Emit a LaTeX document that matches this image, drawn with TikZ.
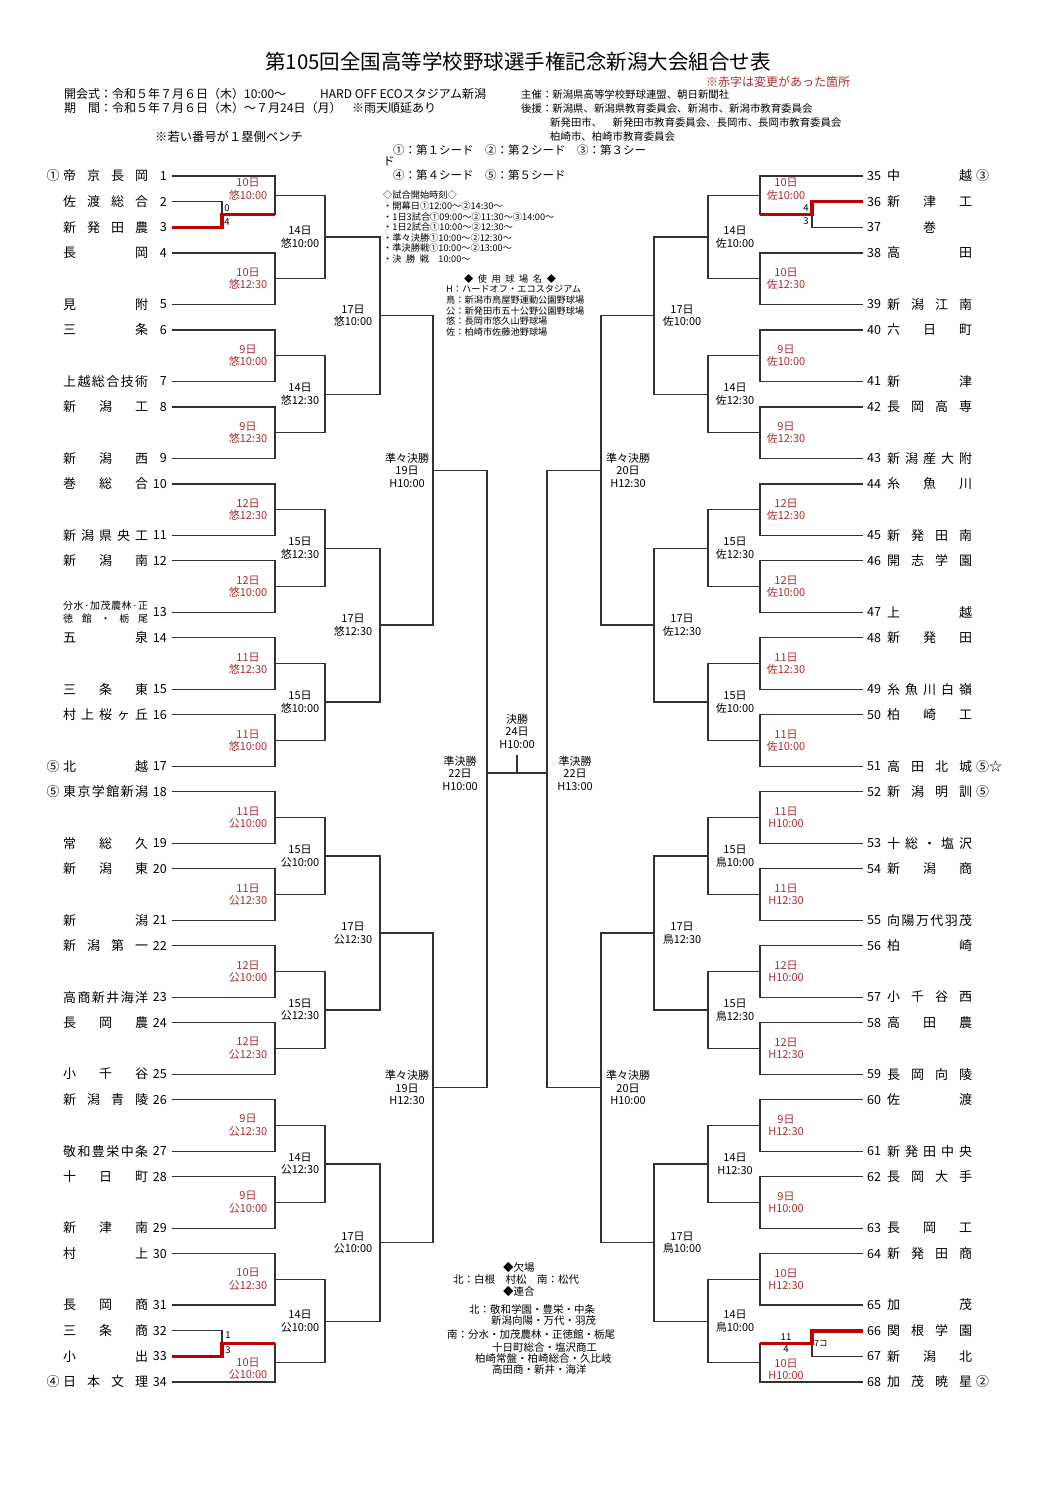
\documentclass[tikz,border=0pt]{standalone}
\usepackage{fontspec}
\setmainfont{Noto Sans CJK JP}
\usetikzlibrary{calc}
\definecolor{redtxt}{RGB}{172,44,48}
\definecolor{redln}{RGB}{192,0,0}
\definecolor{lncol}{RGB}{50,50,50}
\def\spreadA#1#2\endspread{#1\ifx\relax#2\relax\else\hfill\spreadA#2\endspread\fi}
\newcommand\sprd[1]{\makebox[85pt][s]{\spreadA#1\endspread}}
\newcommand\ctrbox[1]{\makebox[85pt][c]{#1}}
\newcommand\fsz[2]{\fontsize{#1}{#2}\selectfont}
\newcommand\gapsp{\hspace{0.5em}}
\newcommand\lteam[4]{%
 \coordinate (t#1) at (172,{176+25.66*#2});
 \node[tnum,anchor=east] (n#1) at (167,{176+25.66*#2}) {#1};
 \node[tname,anchor=west] (m#1) at (63,{176+25.66*#2}) {#3};
 \ifx\relax#4\relax\else\node[tname] (s#1) at (53,{176+25.66*#2}) {#4};\fi}
\newcommand\rteam[4]{%
 \coordinate (t#1) at (863,{176+25.66*#2});
 \node[tnum,anchor=west] (n#1) at (867,{176+25.66*#2}) {#1};
 \node[tname,anchor=west] (m#1) at (887,{176+25.66*#2}) {#3};
 \ifx\relax#4\relax\else\node[tname,anchor=west] (s#1) at (976,{176+25.66*#2}) {#4};\fi}
\newcommand\brk[4]{%
 \draw[ln] (#1) -- (#1 -| #3) -- (#2 -| #3) -- (#2);
 \coordinate (#4) at ($(#1 -| #3)!0.5!(#2 -| #3)$);}
\newcommand\mlab[5]{\node[#4,yshift=#5] (l#1) at (#1 -| #2) {#3};}
\begin{document}
\begin{tikzpicture}[x=1pt,y=-1pt,
  ln/.style={draw=lncol,line width=1.15pt},
  redpath/.style={draw=redln,line width=3.6pt},
  tname/.style={inner sep=0pt,font=\fsz{13}{13}},
  tnum/.style={inner sep=0pt,font=\fsz{12.5}{13}},
  lab/.style={inner sep=0pt,align=center,font=\fsz{11}{12.5}},
  rlab/.style={lab,text=redtxt},
  score/.style={inner sep=0pt,font=\fsz{9.5}{10}},
  note/.style={inner sep=0pt,anchor=west,font=\fsz{9.2}{10}},
  bnote/.style={inner sep=0pt,anchor=west,font=\fsz{10.5}{11}},
  head/.style={inner sep=0pt,anchor=west,font=\fsz{12}{13}},
  sub/.style={inner sep=0pt,anchor=west,font=\fsz{10.4}{11}},
  seedl/.style={inner sep=0pt,anchor=west,font=\fsz{11.5}{12}}]
\useasboundingbox[fill=white] (0,0) rectangle (1061,1500);

% ---------- header ----------
\node[inner sep=0pt,font=\fsz{20.5}{22}] (title) at (518,62) {第105回全国高等学校野球選手権記念新潟大会組合せ表};
\node[inner sep=0pt,anchor=west,font=\fsz{12}{12},text=redtxt] (chg) at (706,82) {※赤字は変更があった箇所};
\node[head] (hd1) at (64,94) {開会式：令和５年７月６日（木）10:00～};
\node[head] (hd2) at (320,94) {HARD OFF ECOスタジアム新潟};
\node[head] (hd3) at (64,108) {期　間：令和５年７月６日（木）～７月24日（月）};
\node[head] (hd4) at (352,108) {※雨天順延あり};
\node[inner sep=0pt,anchor=west,font=\fsz{12.3}{13}] (hd5) at (155,137) {※若い番号が１塁側ベンチ};
\node[sub] (sp1) at (521,95) {主催：新潟県高等学校野球連盟、朝日新聞社};
\node[sub] (sp2) at (521,109) {後援：新潟県、新潟県教育委員会、新潟市、新潟市教育委員会};
\node[sub] (sp3) at (550,123) {新発田市、　新発田市教育委員会、長岡市、長岡市教育委員会};
\node[sub] (sp4) at (550,137) {柏崎市、柏崎市教育委員会};
\node[seedl] (sd1) at (393,150) {①：第１シード　②：第２シード　③：第３シー};
\node[seedl] (sd2) at (383,161) {ド};
\node[seedl] (sd3) at (393,175) {④：第４シード　⑤：第５シード};

% ---------- centre notes ----------
\node[note] (h1) at (383,195) {◇試合開始時刻◇};
\node[note] (h2) at (383,206) {・開幕日①12:00～②14:30～};
\node[note] (h3) at (383,216.5) {・1日3試合①09:00～②11:30～③14:00～};
\node[note] (h4) at (383,227) {・1日2試合①10:00～②12:30～};
\node[note] (h5) at (383,237.5) {・準々決勝①10:00～②12:30～};
\node[note] (h6) at (383,248) {・準決勝戦①10:00～②13:00～};
\node[note] (h7) at (383,259) {・決\gapsp 勝\gapsp 戦　10:00～};
\node[note,anchor=center] (h8) at (510,279) {◆\gapsp 使\gapsp 用\gapsp 球\gapsp 場\gapsp 名\gapsp ◆};
\node[note] (h9) at (446,289) {H：ハードオフ・エコスタジアム};
\node[note] (h10) at (446,300) {鳥：新潟市鳥屋野運動公園野球場};
\node[note] (h11) at (446,310.5) {公：新発田市五十公野公園野球場};
\node[note] (h12) at (446,321) {悠：長岡市悠久山野球場};
\node[note] (h13) at (446,331.5) {佐：柏崎市佐藤池野球場};

\node[bnote] (k1) at (503,1267) {◆欠場};
\node[bnote] (k2) at (453,1279) {北：白根　村松　南：松代};
\node[bnote] (k3) at (503,1291) {◆連合};
\node[bnote] (k4) at (469,1309) {北：敬和学園・豊栄・中条};
\node[bnote] (k5) at (491,1321) {新潟向陽・万代・羽茂};
\node[bnote] (k6) at (447,1335) {南：分水・加茂農林・正徳館・栃尾};
\node[bnote] (k7) at (492,1347) {十日町総合・塩沢商工};
\node[bnote] (k8) at (475,1358) {柏崎常盤・柏崎総合・久比岐};
\node[bnote] (k9) at (492,1370) {高田商・新井・海洋};

% ---------- columns ----------
\coordinate (cLp) at (222,0); \coordinate (cL1) at (275,0); \coordinate (cL2) at (325,0);
\coordinate (cL3) at (380,0); \coordinate (cL4) at (433,0); \coordinate (cL5) at (487,0);
\coordinate (cRp) at (812,0); \coordinate (cR1) at (760,0); \coordinate (cR2) at (708,0);
\coordinate (cR3) at (654,0); \coordinate (cR4) at (601,0); \coordinate (cR5) at (547,0);
\coordinate (xl1) at (248,0); \coordinate (xl2) at (300,0); \coordinate (xl3) at (353,0);
\coordinate (xl4) at (407,0); \coordinate (xl5) at (460,0);
\coordinate (xr1) at (786,0); \coordinate (xr2) at (735,0); \coordinate (xr3) at (682,0);
\coordinate (xr4) at (628,0); \coordinate (xr5) at (575,0);

% ---------- teams left ----------
\lteam{1}{0}{\sprd{帝京長岡}}{①}
\lteam{2}{1}{\sprd{佐渡総合}}{}
\lteam{3}{2}{\sprd{新発田農}}{}
\lteam{4}{3}{\sprd{長岡}}{}
\lteam{5}{5}{\sprd{見附}}{}
\lteam{6}{6}{\sprd{三条}}{}
\lteam{7}{8}{\sprd{上越総合技術}}{}
\lteam{8}{9}{\sprd{新潟工}}{}
\lteam{9}{11}{\sprd{新潟西}}{}
\lteam{10}{12}{\sprd{巻総合}}{}
\lteam{11}{14}{\sprd{新潟県央工}}{}
\lteam{12}{15}{\sprd{新潟南}}{}
\coordinate (t13) at (172,{176+25.66*17});
\node[tnum,anchor=east] (n13) at (167,{176+25.66*17}) {13};
\node[inner sep=0pt,anchor=west,font=\fsz{10}{10}] (m13a) at (63,{176+25.66*17-7}) {\sprd{分水·加茂農林·正}};
\node[inner sep=0pt,anchor=west,font=\fsz{10}{10}] (m13b) at (63,{176+25.66*17+6}) {\sprd{徳館・栃尾}};
\lteam{14}{18}{\sprd{五泉}}{}
\lteam{15}{20}{\sprd{三条東}}{}
\lteam{16}{21}{\sprd{村上桜ヶ丘}}{}
\lteam{17}{23}{\sprd{北越}}{⑤}
\lteam{18}{24}{\sprd{東京学館新潟}}{⑤}
\lteam{19}{26}{\sprd{常総久}}{}
\lteam{20}{27}{\sprd{新潟東}}{}
\lteam{21}{29}{\sprd{新潟}}{}
\lteam{22}{30}{\sprd{新潟第一}}{}
\lteam{23}{32}{\sprd{高商新井海洋}}{}
\lteam{24}{33}{\sprd{長岡農}}{}
\lteam{25}{35}{\sprd{小千谷}}{}
\lteam{26}{36}{\sprd{新潟青陵}}{}
\lteam{27}{38}{\sprd{敬和豊栄中条}}{}
\lteam{28}{39}{\sprd{十日町}}{}
\lteam{29}{41}{\sprd{新津南}}{}
\lteam{30}{42}{\sprd{村上}}{}
\lteam{31}{44}{\sprd{長岡商}}{}
\lteam{32}{45}{\sprd{三条商}}{}
\lteam{33}{46}{\sprd{小出}}{}
\lteam{34}{47}{\sprd{日本文理}}{④}

% ---------- teams right ----------
\rteam{35}{0}{\sprd{中越}}{③}
\rteam{36}{1}{\sprd{新津工}}{}
\rteam{37}{2}{\ctrbox{巻}}{}
\rteam{38}{3}{\sprd{高田}}{}
\rteam{39}{5}{\sprd{新潟江南}}{}
\rteam{40}{6}{\sprd{六日町}}{}
\rteam{41}{8}{\sprd{新津}}{}
\rteam{42}{9}{\sprd{長岡高専}}{}
\rteam{43}{11}{\sprd{新潟産大附}}{}
\rteam{44}{12}{\sprd{糸魚川}}{}
\rteam{45}{14}{\sprd{新発田南}}{}
\rteam{46}{15}{\sprd{開志学園}}{}
\rteam{47}{17}{\sprd{上越}}{}
\rteam{48}{18}{\sprd{新発田}}{}
\rteam{49}{20}{\sprd{糸魚川白嶺}}{}
\rteam{50}{21}{\sprd{柏崎工}}{}
\rteam{51}{23}{\sprd{高田北城}}{⑤☆}
\rteam{52}{24}{\sprd{新潟明訓}}{⑤}
\rteam{53}{26}{\sprd{十総・塩沢}}{}
\rteam{54}{27}{\sprd{新潟商}}{}
\rteam{55}{29}{\sprd{向陽万代羽茂}}{}
\rteam{56}{30}{\sprd{柏崎}}{}
\rteam{57}{32}{\sprd{小千谷西}}{}
\rteam{58}{33}{\sprd{高田農}}{}
\rteam{59}{35}{\sprd{長岡向陵}}{}
\rteam{60}{36}{\sprd{佐渡}}{}
\rteam{61}{38}{\sprd{新発田中央}}{}
\rteam{62}{39}{\sprd{長岡大手}}{}
\rteam{63}{41}{\sprd{長岡工}}{}
\rteam{64}{42}{\sprd{新発田商}}{}
\rteam{65}{44}{\sprd{加茂}}{}
\rteam{66}{45}{\sprd{関根学園}}{}
\rteam{67}{46}{\sprd{新潟北}}{}
\rteam{68}{47}{\sprd{加茂暁星}}{②}

% ---------- left bracket ----------
\brk{t2}{t3}{cLp}{p1}
\brk{t1}{p1}{cL1}{a1}
\brk{t4}{t5}{cL1}{a2}
\brk{t6}{t7}{cL1}{a3}
\brk{t8}{t9}{cL1}{a4}
\brk{t10}{t11}{cL1}{a5}
\brk{t12}{t13}{cL1}{a6}
\brk{t14}{t15}{cL1}{a7}
\brk{t16}{t17}{cL1}{a8}
\brk{t18}{t19}{cL1}{a9}
\brk{t20}{t21}{cL1}{a10}
\brk{t22}{t23}{cL1}{a11}
\brk{t24}{t25}{cL1}{a12}
\brk{t26}{t27}{cL1}{a13}
\brk{t28}{t29}{cL1}{a14}
\brk{t30}{t31}{cL1}{a15}
\brk{t32}{t33}{cLp}{p2}
\brk{p2}{t34}{cL1}{a16}
\brk{a1}{a2}{cL2}{b1}
\brk{a3}{a4}{cL2}{b2}
\brk{a5}{a6}{cL2}{b3}
\brk{a7}{a8}{cL2}{b4}
\brk{a9}{a10}{cL2}{b5}
\brk{a11}{a12}{cL2}{b6}
\brk{a13}{a14}{cL2}{b7}
\brk{a15}{a16}{cL2}{b8}
\brk{b1}{b2}{cL3}{c1}
\brk{b3}{b4}{cL3}{c2}
\brk{b5}{b6}{cL3}{c3}
\brk{b7}{b8}{cL3}{c4}
\brk{c1}{c2}{cL4}{d1}
\brk{c3}{c4}{cL4}{d2}
\brk{d1}{d2}{cL5}{e1m}

% ---------- right bracket ----------
\brk{t36}{t37}{cRp}{q1}
\brk{t35}{q1}{cR1}{A1}
\brk{t38}{t39}{cR1}{A2}
\brk{t40}{t41}{cR1}{A3}
\brk{t42}{t43}{cR1}{A4}
\brk{t44}{t45}{cR1}{A5}
\brk{t46}{t47}{cR1}{A6}
\brk{t48}{t49}{cR1}{A7}
\brk{t50}{t51}{cR1}{A8}
\brk{t52}{t53}{cR1}{A9}
\brk{t54}{t55}{cR1}{A10}
\brk{t56}{t57}{cR1}{A11}
\brk{t58}{t59}{cR1}{A12}
\brk{t60}{t61}{cR1}{A13}
\brk{t62}{t63}{cR1}{A14}
\brk{t64}{t65}{cR1}{A15}
\brk{t66}{t67}{cRp}{q2}
\brk{q2}{t68}{cR1}{A16}
\brk{A1}{A2}{cR2}{B1}
\brk{A3}{A4}{cR2}{B2}
\brk{A5}{A6}{cR2}{B3}
\brk{A7}{A8}{cR2}{B4}
\brk{A9}{A10}{cR2}{B5}
\brk{A11}{A12}{cR2}{B6}
\brk{A13}{A14}{cR2}{B7}
\brk{A15}{A16}{cR2}{B8}
\brk{B1}{B2}{cR3}{C1}
\brk{B3}{B4}{cR3}{C2}
\brk{B5}{B6}{cR3}{C3}
\brk{B7}{B8}{cR3}{C4}
\brk{C1}{C2}{cR4}{D1}
\brk{C3}{C4}{cR4}{D2}
\brk{D1}{D2}{cR5}{E1m}

% ---------- final ----------
\coordinate (e1) at (487,773);
\coordinate (E1) at (547,773);
\coordinate (ft) at (517,755);
\draw[ln] (e1) -- (E1);
\draw[ln] (ft) -- (ft |- e1);

% ---------- red winner paths ----------
\draw[redpath] (t3) -- (t3 -| cLp) -- (p1) -- (p1 -| cL1);
\draw[redpath] (t33) -- (t33 -| cLp) -- (p2) -- (p2 -| cL1);
\draw[redpath] (t36) -- (t36 -| cRp) -- (q1) -- (q1 -| cR1);
\draw[redpath] (t66) -- (t66 -| cRp) -- (q2) -- (q2 -| cR1);

% ---------- scores ----------
\node[score] (sc1) at (227,208) {0};
\node[score] (sc2) at (227,222) {4};
\node[score] (sc3) at (228,1335) {1};
\node[score] (sc4) at (228,1350) {3};
\node[score] (sc5) at (806,208) {4};
\node[score] (sc6) at (806,221) {3};
\node[score] (sc7) at (786,1337) {11};
\node[score] (sc8) at (786,1349) {4};
\node[score,font=\fsz{8.5}{9}] (sc9) at (821,1343) {7コ};

% ---------- left labels ----------
\mlab{a1}{xl1}{10日\\悠10:00}{rlab}{6pt}
\mlab{a2}{xl1}{10日\\悠12:30}{rlab}{0pt}
\mlab{a3}{xl1}{9日\\悠10:00}{rlab}{0pt}
\mlab{a4}{xl1}{9日\\悠12:30}{rlab}{0pt}
\mlab{a5}{xl1}{12日\\悠12:30}{rlab}{0pt}
\mlab{a6}{xl1}{12日\\悠10:00}{rlab}{0pt}
\mlab{a7}{xl1}{11日\\悠12:30}{rlab}{0pt}
\mlab{a8}{xl1}{11日\\悠10:00}{rlab}{0pt}
\mlab{a9}{xl1}{11日\\公10:00}{rlab}{0pt}
\mlab{a10}{xl1}{11日\\公12:30}{rlab}{0pt}
\mlab{a11}{xl1}{12日\\公10:00}{rlab}{0pt}
\mlab{a12}{xl1}{12日\\公12:30}{rlab}{0pt}
\mlab{a13}{xl1}{9日\\公12:30}{rlab}{0pt}
\mlab{a14}{xl1}{9日\\公10:00}{rlab}{0pt}
\mlab{a15}{xl1}{10日\\公12:30}{rlab}{0pt}
\mlab{a16}{xl1}{10日\\公10:00}{rlab}{-6pt}
\mlab{b1}{xl2}{14日\\悠10:00}{lab}{0pt}
\mlab{b2}{xl2}{14日\\悠12:30}{lab}{0pt}
\mlab{b3}{xl2}{15日\\悠12:30}{lab}{0pt}
\mlab{b4}{xl2}{15日\\悠10:00}{lab}{0pt}
\mlab{b5}{xl2}{15日\\公10:00}{lab}{0pt}
\mlab{b6}{xl2}{15日\\公12:30}{lab}{0pt}
\mlab{b7}{xl2}{14日\\公12:30}{lab}{0pt}
\mlab{b8}{xl2}{14日\\公10:00}{lab}{0pt}
\mlab{c1}{xl3}{17日\\悠10:00}{lab}{0pt}
\mlab{c2}{xl3}{17日\\悠12:30}{lab}{0pt}
\mlab{c3}{xl3}{17日\\公12:30}{lab}{0pt}
\mlab{c4}{xl3}{17日\\公10:00}{lab}{0pt}
\mlab{d1}{xl4}{準々決勝\\19日\\H10:00}{lab}{0pt}
\mlab{d2}{xl4}{準々決勝\\19日\\H12:30}{lab}{0pt}
\mlab{e1}{xl5}{準決勝\\22日\\H10:00}{lab}{0pt}

% ---------- right labels ----------
\mlab{A1}{xr1}{10日\\佐10:00}{rlab}{6pt}
\mlab{A2}{xr1}{10日\\佐12:30}{rlab}{0pt}
\mlab{A3}{xr1}{9日\\佐10:00}{rlab}{0pt}
\mlab{A4}{xr1}{9日\\佐12:30}{rlab}{0pt}
\mlab{A5}{xr1}{12日\\佐12:30}{rlab}{0pt}
\mlab{A6}{xr1}{12日\\佐10:00}{rlab}{0pt}
\mlab{A7}{xr1}{11日\\佐12:30}{rlab}{0pt}
\mlab{A8}{xr1}{11日\\佐10:00}{rlab}{0pt}
\mlab{A9}{xr1}{11日\\H10:00}{rlab}{0pt}
\mlab{A10}{xr1}{11日\\H12:30}{rlab}{0pt}
\mlab{A11}{xr1}{12日\\H10:00}{rlab}{0pt}
\mlab{A12}{xr1}{12日\\H12:30}{rlab}{0pt}
\mlab{A13}{xr1}{9日\\H12:30}{rlab}{0pt}
\mlab{A14}{xr1}{9日\\H10:00}{rlab}{0pt}
\mlab{A15}{xr1}{10日\\H12:30}{rlab}{0pt}
\mlab{A16}{xr1}{10日\\H10:00}{rlab}{-6.5pt}
\mlab{B1}{xr2}{14日\\佐10:00}{lab}{0pt}
\mlab{B2}{xr2}{14日\\佐12:30}{lab}{0pt}
\mlab{B3}{xr2}{15日\\佐12:30}{lab}{0pt}
\mlab{B4}{xr2}{15日\\佐10:00}{lab}{0pt}
\mlab{B5}{xr2}{15日\\鳥10:00}{lab}{0pt}
\mlab{B6}{xr2}{15日\\鳥12:30}{lab}{0pt}
\mlab{B7}{xr2}{14日\\H12:30}{lab}{0pt}
\mlab{B8}{xr2}{14日\\鳥10:00}{lab}{0pt}
\mlab{C1}{xr3}{17日\\佐10:00}{lab}{0pt}
\mlab{C2}{xr3}{17日\\佐12:30}{lab}{0pt}
\mlab{C3}{xr3}{17日\\鳥12:30}{lab}{0pt}
\mlab{C4}{xr3}{17日\\鳥10:00}{lab}{0pt}
\mlab{D1}{xr4}{準々決勝\\20日\\H12:30}{lab}{0pt}
\mlab{D2}{xr4}{準々決勝\\20日\\H10:00}{lab}{0pt}
\mlab{E1}{xr5}{準決勝\\22日\\H13:00}{lab}{0pt}
\node[lab] (lf) at (517,731) {決勝\\24日\\H10:00};
\end{tikzpicture}
\end{document}
